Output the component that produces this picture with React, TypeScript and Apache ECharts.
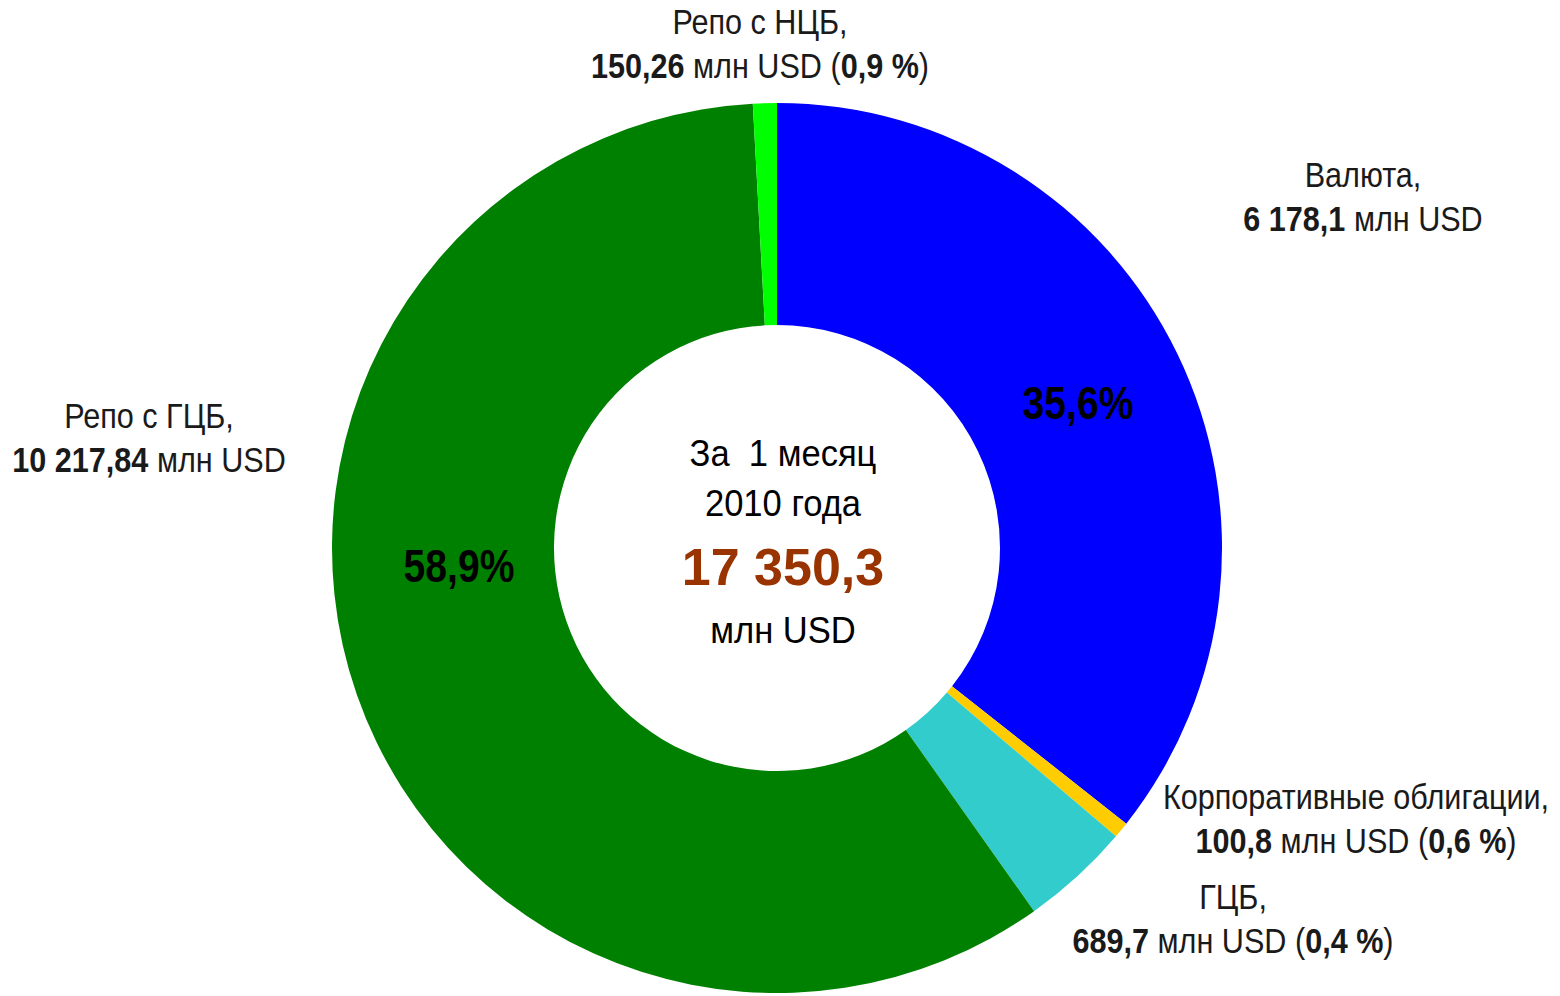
import React, { useEffect, useRef } from "react";
import * as echarts from "echarts";

const categories = ["Валюта", "Корпоративные облигации", "ГЦБ", "Репо с ГЦБ", "Репо с НЦБ"];
const values = [6178.1, 100.8, 689.7, 10217.84, 150.26];
const valueLabels = ["6 178,1", "100,8", "689,7", "10 217,84", "150,26"];
const shareLabels = ["", "0,6", "0,4", "", "0,9"];
const innerPercents = ["35,6%", "", "", "58,9%", ""];
const colors = ["#0000FF", "#FFCC00", "#33CCCC", "#008000", "#00FF00"];
const centerLines = ["За  1 месяц", "2010 года"];
const totalLabel = "17 350,3";
const unitLabel = "млн USD";

// label anchor positions (text block centres)
const outerLabelPos = [
  [1363, 175],
  [1356, 797],
  [1233, 897],
  [149, 416],
  [760, 22],
];
const innerLabelPos = [
  [1078, 403],
  null,
  null,
  [459, 566],
  null,
];

const FONT = "Liberation Sans";
const TXT = "#1a1a1a";
const SX = 0.85;
const SXC = 0.96;

export default function App() {
  const ref = useRef<HTMLDivElement>(null);
  useEffect(() => {
    if (!ref.current) return;
    const chart = echarts.init(ref.current, undefined, { renderer: "svg" });
    const graphics: any[] = [];
    categories.forEach((c, i) => {
      const [x, y] = outerLabelPos[i];
      graphics.push({
        type: "text",
        x,
        y,
        z: 100,
        scaleX: SX,
        style: {
          text: c + ",",
          fontFamily: FONT,
          fontSize: 36,
          fill: TXT,
          align: "center",
          verticalAlign: "middle",
        },
      });
      const second = shareLabels[i]
        ? `{b|${valueLabels[i]}} ${unitLabel} ({b|${shareLabels[i]} %})`
        : `{b|${valueLabels[i]}} ${unitLabel}`;
      graphics.push({
        type: "text",
        x,
        y: y + 44,
        z: 100,
        scaleX: SX,
        style: {
          text: second,
          fontFamily: FONT,
          fontSize: 36,
          fill: TXT,
          align: "center",
          verticalAlign: "middle",
          rich: {
            b: { fontFamily: FONT, fontSize: 36, fontWeight: "bold", fill: TXT },
          },
        },
      });
      const ip = innerLabelPos[i];
      if (ip && innerPercents[i]) {
        graphics.push({
          type: "text",
          x: ip[0],
          y: ip[1],
          z: 100,
          scaleX: SX,
          style: {
            text: innerPercents[i],
            fontFamily: FONT,
            fontSize: 46,
            fontWeight: "bold",
            fill: "#000",
            align: "center",
            verticalAlign: "middle",
          },
        });
      }
    });
    centerLines.forEach((t, k) => {
      graphics.push({
        type: "text",
        x: 783,
        y: 453 + k * 50,
        z: 100,
        scaleX: SXC,
        style: { text: t, fontFamily: FONT, fontSize: 36, fill: "#000", align: "center", verticalAlign: "middle" },
      });
    });
    graphics.push({
      type: "text",
      x: 783,
      y: 567,
      z: 100,
      scaleX: 1.0,
      style: {
        text: totalLabel,
        fontFamily: FONT,
        fontSize: 52,
        fontWeight: "bold",
        fill: "#993300",
        align: "center",
        verticalAlign: "middle",
      },
    });
    graphics.push({
      type: "text",
      x: 783,
      y: 630,
      z: 100,
      scaleX: SXC,
      style: { text: unitLabel, fontFamily: FONT, fontSize: 36, fill: "#000", align: "center", verticalAlign: "middle" },
    });

    chart.setOption({
      animation: false,
      backgroundColor: "#ffffff",
      series: [
        {
          type: "pie",
          center: [777, 548],
          radius: [223, 445],
          startAngle: 90,
          clockwise: true,
          label: { show: false },
          labelLine: { show: false },
          itemStyle: { borderWidth: 0 },
          data: categories.map((c, i) => ({ name: c, value: values[i], itemStyle: { color: colors[i] } })),
        },
      ],
      graphic: graphics,
    });
    return () => chart.dispose();
  }, []);
  return <div ref={ref} style={{ position: "fixed", left: 0, top: 0, width: 1560, height: 996 }} />;
}
